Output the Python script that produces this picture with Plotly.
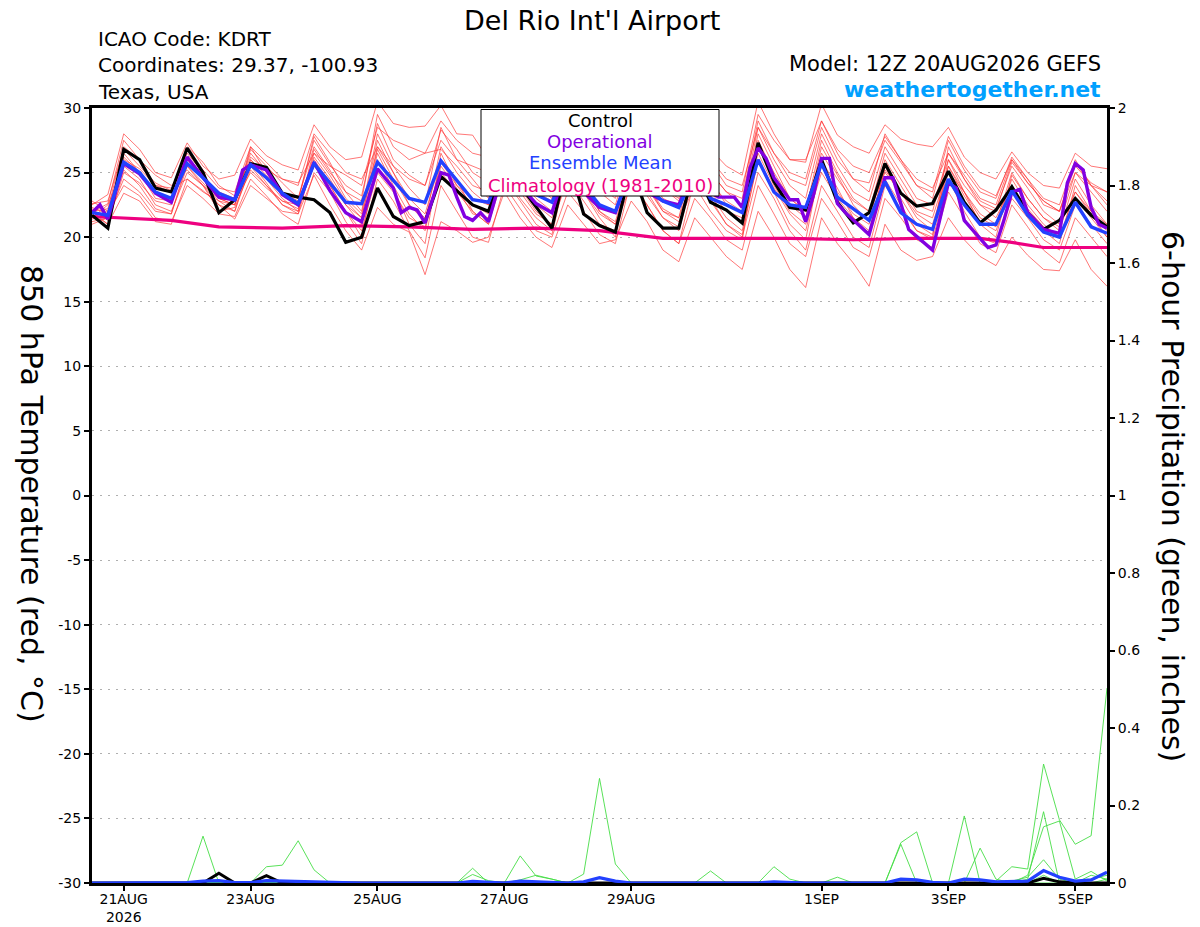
import pandas as pd
import plotly.graph_objects as go

# ---------------- data ----------------
RUN_START = "2026-08-20 12:00"
STEP_HOURS = 6
N_STEPS = 65  # 20AUG 12Z .. 05SEP 12Z, 6-hourly

TICK_DATES = ["2026-08-21", "2026-08-23", "2026-08-25", "2026-08-27",
              "2026-08-29", "2026-09-01", "2026-09-03", "2026-09-05"]
TICK_LABELS = ["21AUG<br>2026", "23AUG", "25AUG", "27AUG",
               "29AUG", "1SEP", "3SEP", "5SEP"]
TEMP_TICKS = [-30, -25, -20, -15, -10, -5, 0, 5, 10, 15, 20, 25, 30]
TEMP_TICK_LABELS = ["-30", "-25", "-20", "-15", "-10", "-5", "0", "5", "10", "15", "20", "25", "30"]
PRCP_TICKS = [0, 0.2, 0.4, 0.6, 0.8, 1.0, 1.2, 1.4, 1.6, 1.8, 2.0]
PRCP_TICK_LABELS = ["0", "0.2", "0.4", "0.6", "0.8", "1", "1.2", "1.4", "1.6", "1.8", "2"]

# 850 hPa temperature (deg C), 6-hourly
CONTROL = [21.7, 20.7,
           26.8, 26.0, 23.8, 23.5,
           26.9, 25.0, 21.9, 22.9,
           25.7, 25.4, 23.4, 23.1,
           22.9, 21.9, 19.6, 20.0,
           23.8, 21.6, 20.9, 21.2,
           24.7, 23.6, 22.5, 22.0,
           25.5, 24.0, 22.3, 20.7,
           26.0, 21.8, 20.9, 20.4,
           25.5, 21.9, 20.7, 20.7,
           25.5, 22.7, 22.1, 21.1,
           27.3, 24.3, 22.3, 22.1,
           26.0, 22.7, 21.1, 21.9,
           25.7, 23.4, 22.4, 22.6,
           25.1, 22.7, 21.1, 22.1,
           23.9, 21.9, 20.6, 21.3,
           23.0, 21.7, 20.8]

ENS_MEAN = [21.9, 21.7,
            25.8, 25.0, 23.5, 23.0,
            25.7, 24.6, 23.4, 22.9,
            25.6, 24.6, 23.4, 22.6,
            25.7, 24.2, 22.7, 22.6,
            25.8, 24.4, 23.0, 22.7,
            25.9, 24.4, 22.9, 22.7,
            25.8, 24.5, 23.3, 22.7,
            25.5, 24.0, 22.5, 22.0,
            25.2, 23.8, 22.8, 22.3,
            25.0, 23.0, 22.5, 21.9,
            26.0, 23.5, 22.5, 22.3,
            25.7, 23.1, 22.2, 21.3,
            24.3, 21.9, 21.0, 20.6,
            24.5, 22.5, 21.0, 21.0,
            23.6, 21.7, 20.4, 20.0,
            22.7, 20.8, 20.3]

# operational run (3-hourly where visible), hours after run start
OPER_HOURS = [0, 3, 6, 12, 18, 24, 30, 36, 42, 48, 54, 57, 60, 66, 72, 78, 84, 90, 96,
              102, 108, 114, 117, 120, 123, 126, 132, 135, 138, 141, 144, 147, 150,
              156, 162, 168, 174, 180, 186, 192, 198, 204, 210, 216, 222, 228, 234,
              237, 243, 246, 249, 252, 255, 258, 264, 267, 270, 273, 276, 279, 282,
              285, 294, 300, 303, 309, 318, 324, 327, 330, 339, 342, 345, 348, 351,
              354, 360, 366, 369, 372, 375, 378, 381, 384]
OPERATIONAL = [21.9, 22.5, 21.4, 25.7, 24.9, 23.4, 22.7, 26.2, 24.6, 23.1, 22.9, 25.2, 25.6,
               25.2, 23.3, 22.5, 25.8, 23.6, 21.9,
               21.2, 25.3, 23.8, 21.9, 22.3, 22.1, 21.1, 25.0, 24.8, 23.1, 21.6, 21.3, 21.9, 21.2,
               25.5, 24.0, 22.6, 21.9, 25.8, 23.5, 22.3, 21.9, 25.5, 23.5, 22.8, 22.5, 25.5, 23.5,
               23.1, 23.1, 22.3, 25.4, 26.9, 26.1, 24.6, 22.9, 22.9, 21.2, 23.3, 26.1, 26.1, 22.6,
               21.9, 20.2, 24.6, 24.6, 20.6, 19.0, 24.2, 23.8, 21.3, 19.2, 19.4, 21.3, 23.5, 23.7,
               21.9, 20.6, 20.3, 24.2, 25.7, 25.2, 22.3, 21.0, 20.7]

CLIM_HOURS = [0, 12, 30, 48, 72, 96, 120, 144, 168, 192, 216, 240, 264, 288, 312, 336, 348, 360, 384]
CLIMATOLOGY = [21.6, 21.5, 21.3, 20.8, 20.7, 20.9, 20.8, 20.6, 20.7, 20.5, 19.9, 19.9, 19.9,
               19.8, 19.9, 19.9, 19.6, 19.2, 19.2]

MEMBER_01 = [22.5, 23.3, 28.0, 26.8, 25.0, 24.6, 27.3, 25.5, 24.5, 24.8, 27.6, 26.3, 25.6, 25.2,
             28.7, 27.0, 26.0, 26.2, 30.5, 28.8, 28.5, 28.6, 30.2, 28.0, 27.9, 26.0, 29.0, 27.5,
             26.0, 25.5, 29.5, 27.2, 25.8, 25.0, 28.8, 26.5, 25.0, 24.5, 28.5, 26.8, 25.5, 24.8,
             30.5, 28.0, 26.0, 25.8, 30.3, 27.9, 27.0, 26.5, 28.7, 27.6, 27.2, 27.0, 28.5, 26.2,
             25.0, 24.5, 26.6, 25.0, 24.0, 23.8, 26.5, 25.5, 25.3]
MEMBER_02 = [21.8, 21.0, 23.4, 22.8, 21.2, 21.0, 24.5, 23.6, 22.5, 21.4, 24.0, 23.0, 22.0, 21.8,
             24.8, 22.5, 20.5, 19.0, 22.3, 21.0, 20.4, 17.1, 21.2, 20.5, 19.6, 20.0, 23.5, 21.5,
             20.0, 19.2, 22.5, 21.0, 19.5, 19.8, 22.8, 21.2, 19.0, 18.1, 21.5, 20.0, 18.5, 17.5,
             22.0, 20.0, 17.5, 16.1, 21.5, 19.5, 18.0, 16.2, 21.0, 19.0, 18.2, 18.5, 21.5, 19.8,
             18.5, 17.8, 20.0, 18.6, 17.5, 17.4, 19.8, 17.5, 16.2]
MEMBER_03 = [22.0, 22.2, 27.0, 26.0, 24.0, 23.5, 26.5, 25.0, 23.0, 22.5, 26.8, 25.5, 24.2, 23.0,
             27.5, 25.6, 24.0, 23.2, 28.8, 26.0, 24.8, 24.0, 28.3, 26.8, 25.0, 24.2, 27.0, 25.5,
             24.0, 23.0, 27.0, 25.0, 23.5, 22.5, 26.5, 24.8, 23.0, 22.4, 27.0, 25.0, 23.5, 23.0,
             29.0, 26.5, 24.5, 24.0, 28.5, 26.0, 24.5, 24.2, 27.5, 25.8, 24.0, 23.5, 27.8, 25.5,
             23.8, 23.2, 26.0, 24.5, 22.5, 22.0, 25.8, 24.0, 22.5]
MEMBER_04 = [21.5, 22.5, 25.5, 24.5, 22.5, 22.0, 25.0, 24.0, 22.0, 22.3, 25.2, 24.0, 22.5, 22.0,
             26.5, 24.8, 22.8, 21.5, 27.0, 25.0, 23.0, 21.8, 26.0, 24.5, 22.0, 21.0, 25.0, 23.0,
             21.5, 20.5, 26.0, 24.0, 22.0, 21.0, 25.0, 23.2, 21.5, 20.8, 25.5, 23.5, 22.0, 21.5,
             26.5, 24.0, 22.0, 21.0, 25.0, 23.0, 21.5, 20.5, 25.5, 23.0, 21.0, 20.2, 26.0, 23.5,
             21.5, 20.8, 24.5, 22.5, 21.0, 20.0, 23.5, 22.0, 21.0]
MEMBER_05 = [22.3, 21.8, 26.2, 25.0, 23.0, 22.8, 26.0, 24.5, 23.2, 23.0, 26.5, 25.0, 23.2, 22.5,
             25.5, 24.0, 22.0, 20.5, 25.0, 23.5, 21.5, 20.8, 25.5, 23.8, 21.8, 21.5, 26.5, 24.5,
             23.0, 22.0, 25.0, 23.5, 21.8, 21.0, 24.0, 22.5, 20.5, 19.5, 24.5, 22.8, 21.0, 20.0,
             25.0, 23.0, 20.5, 19.0, 24.0, 22.0, 20.0, 19.2, 24.0, 22.2, 20.5, 19.8, 24.5, 22.0,
             20.0, 19.5, 23.0, 21.5, 19.8, 19.0, 22.5, 21.0, 19.5]
MEMBER_06 = [21.0, 21.5, 24.5, 23.5, 22.0, 21.8, 25.8, 24.6, 23.5, 23.0, 25.8, 24.2, 22.5, 21.8,
             26.0, 24.2, 22.5, 21.5, 26.8, 24.5, 22.5, 21.2, 27.0, 25.0, 23.5, 22.5, 24.5, 22.8,
             21.0, 20.2, 25.5, 23.5, 21.5, 20.0, 26.0, 24.0, 22.0, 21.2, 24.0, 22.0, 20.5, 19.8,
             27.5, 25.0, 23.0, 22.0, 26.5, 24.5, 22.8, 22.0, 25.0, 23.5, 21.8, 21.0, 25.0, 23.5,
             21.8, 21.0, 25.0, 23.0, 21.5, 20.5, 24.5, 22.5, 21.0]
MEMBER_07 = [22.0, 21.0, 25.0, 24.2, 22.8, 22.5, 26.8, 25.2, 23.8, 23.5, 27.0, 25.0, 23.5, 22.8,
             27.8, 25.8, 23.5, 22.0, 28.0, 25.5, 23.8, 22.5, 28.5, 26.0, 24.5, 23.0, 27.5, 25.8,
             24.5, 24.0, 28.0, 26.0, 24.0, 23.5, 27.5, 25.5, 23.8, 22.8, 26.0, 24.2, 22.8, 22.0,
             28.0, 25.5, 23.0, 22.0, 27.5, 25.0, 23.0, 22.0, 26.5, 24.5, 22.5, 22.0, 26.5, 24.5,
             22.8, 22.2, 25.5, 23.8, 22.0, 21.0, 25.0, 23.5, 22.0]
MEMBER_08 = [22.8, 22.0, 26.5, 25.0, 23.5, 22.8, 25.5, 24.0, 22.5, 22.0, 26.0, 24.5, 23.0, 22.0,
             26.8, 25.0, 23.5, 22.8, 29.5, 27.0, 26.0, 26.5, 29.0, 27.5, 26.5, 26.2, 28.5, 27.0,
             25.5, 25.0, 28.0, 26.5, 25.0, 24.0, 28.0, 26.0, 24.5, 23.5, 27.5, 25.8, 24.0, 23.5,
             29.5, 27.5, 26.0, 26.0, 29.0, 26.8, 25.5, 25.0, 27.8, 26.0, 24.5, 23.8, 26.5, 24.8,
             23.0, 22.5, 26.0, 24.2, 22.8, 22.0, 25.5, 24.2, 23.5]
MEMBER_09 = [21.6, 22.0, 25.8, 24.8, 23.5, 23.0, 26.2, 24.8, 23.0, 22.8, 25.0, 23.8, 22.8, 22.5,
             25.8, 24.0, 22.0, 20.0, 26.0, 23.8, 21.0, 19.5, 26.5, 24.0, 22.5, 21.8, 26.0, 24.2,
             22.5, 21.5, 26.5, 24.5, 22.5, 21.8, 25.5, 23.5, 21.5, 20.5, 25.0, 23.0, 21.0, 20.2,
             26.0, 23.5, 21.0, 19.8, 26.0, 23.8, 21.5, 20.2, 24.5, 22.5, 20.5, 20.0, 27.0, 24.5,
             22.5, 21.5, 24.0, 22.0, 20.5, 19.5, 24.0, 22.0, 20.5]
MEMBER_10 = [22.2, 21.3, 26.0, 25.3, 24.0, 23.8, 24.5, 23.5, 22.8, 22.5, 26.0, 24.8, 23.5, 23.0,
             27.0, 25.2, 23.0, 21.8, 27.5, 25.0, 22.5, 21.5, 25.0, 23.5, 22.0, 21.0, 25.5, 23.8,
             22.0, 21.0, 24.5, 22.8, 21.0, 20.5, 26.0, 24.0, 22.2, 21.5, 26.5, 24.5, 22.5, 22.0,
             27.0, 24.5, 22.5, 21.5, 27.0, 24.8, 22.5, 21.2, 26.0, 24.0, 22.0, 21.5, 25.5, 23.5,
             21.0, 20.0, 24.8, 23.0, 21.5, 20.8, 23.5, 21.8, 20.0]
MEMBER_11 = [21.9, 22.6, 27.5, 26.0, 24.8, 24.0, 25.2, 24.0, 23.0, 22.5, 27.0, 25.8, 24.5, 24.0,
             28.0, 26.5, 25.0, 24.5, 27.0, 25.5, 24.5, 24.0, 27.5, 26.0, 25.5, 25.0, 28.0, 26.5,
             25.0, 24.5, 27.5, 25.5, 24.0, 23.0, 27.0, 25.2, 23.8, 23.0, 28.0, 26.0, 24.5, 24.0,
             28.5, 26.5, 25.0, 24.5, 29.0, 26.5, 24.5, 23.5, 28.0, 26.0, 24.0, 23.0, 27.5, 25.2,
             23.5, 23.0, 26.2, 24.5, 23.0, 22.5, 26.0, 24.0, 22.8]
MEMBER_12 = [21.4, 21.8, 24.0, 23.2, 21.5, 21.2, 24.0, 23.0, 21.8, 21.6, 24.5, 23.2, 21.8, 21.0,
             25.0, 23.5, 21.2, 19.5, 24.5, 22.8, 20.5, 18.4, 24.0, 22.0, 20.0, 19.6, 24.0, 22.2,
             20.5, 20.0, 23.5, 22.0, 20.2, 19.5, 24.5, 22.5, 20.5, 19.5, 23.0, 21.5, 19.8, 19.0,
             24.0, 21.8, 19.5, 18.5, 23.0, 21.2, 19.2, 18.5, 23.0, 21.5, 19.8, 19.2, 23.5, 21.5,
             19.5, 18.8, 22.5, 20.8, 19.0, 18.0, 21.5, 20.0, 18.5]
MEMBER_13 = [22.6, 22.8, 26.8, 25.5, 24.2, 23.6, 27.0, 25.8, 24.0, 23.2, 26.2, 25.2, 24.5, 24.2,
             26.5, 25.5, 24.8, 24.0, 28.5, 27.5, 27.0, 26.5, 26.8, 25.5, 24.0, 23.5, 26.5, 25.0,
             23.5, 22.8, 27.0, 25.5, 24.0, 23.5, 27.2, 25.5, 24.0, 23.5, 26.8, 25.0, 23.5, 22.5,
             28.5, 26.0, 24.0, 23.0, 28.0, 25.5, 23.5, 22.8, 27.0, 25.0, 23.0, 22.5, 26.0, 24.0,
             22.5, 22.0, 25.8, 24.2, 22.8, 22.0, 25.0, 24.0, 23.5]
MEMBER_14 = [21.2, 21.5, 25.2, 24.0, 22.2, 21.8, 25.5, 24.2, 22.8, 22.0, 25.5, 24.0, 22.8, 22.2,
             26.2, 24.5, 22.5, 21.0, 26.5, 24.0, 21.8, 20.5, 25.8, 24.0, 23.0, 22.5, 25.0, 23.5,
             21.8, 21.0, 26.0, 24.2, 22.0, 21.2, 25.5, 23.8, 22.0, 21.5, 25.0, 23.2, 21.5, 20.5,
             26.0, 23.8, 21.8, 20.5, 25.5, 23.5, 21.8, 21.0, 25.2, 23.5, 21.5, 20.5, 25.5, 23.2,
             21.2, 20.5, 23.8, 22.2, 20.8, 20.0, 23.0, 21.5, 20.0]
MEMBERS = [MEMBER_01, MEMBER_02, MEMBER_03, MEMBER_04, MEMBER_05, MEMBER_06, MEMBER_07,
           MEMBER_08, MEMBER_09, MEMBER_10, MEMBER_11, MEMBER_12, MEMBER_13, MEMBER_14]

# 6-hour precipitation (inches)
CONTROL_PRCP = [0, 0, 0, 0, 0, 0, 0, 0, 0.025, 0, 0, 0.019, 0, 0, 0, 0, 0, 0, 0, 0, 0, 0,
                0, 0, 0, 0, 0, 0, 0, 0, 0, 0, 0, 0, 0, 0, 0, 0, 0, 0, 0, 0, 0, 0, 0, 0,
                0, 0, 0, 0, 0, 0, 0, 0, 0, 0, 0, 0, 0, 0, 0.012, 0.003, 0, 0, 0]
MEAN_PRCP = [0, 0, 0, 0, 0, 0, 0.001, 0.005, 0.006, 0.001, 0.001, 0.006, 0.005, 0.004,
             0.001, 0, 0, 0, 0, 0, 0, 0, 0, 0, 0.004, 0.001, 0, 0.005, 0.004, 0.002,
             0, 0.003, 0.014, 0.005, 0, 0, 0, 0.001, 0, 0.002, 0, 0, 0, 0.003, 0.001, 0,
             0, 0.001, 0, 0, 0, 0.010, 0.008, 0.002, 0, 0.010, 0.008, 0.003,
             0.004, 0.005, 0.032, 0.015, 0.005, 0.008, 0.028]
PRCP_MEMBER_1 = [0, 0, 0, 0, 0, 0, 0, 0.121, 0, 0, 0, 0, 0, 0, 0, 0, 0, 0, 0, 0, 0, 0,
                 0, 0, 0, 0, 0, 0, 0, 0, 0, 0.023, 0.270, 0.049, 0, 0, 0, 0, 0, 0, 0, 0,
                 0, 0, 0, 0, 0, 0, 0, 0, 0, 0.104, 0.132, 0, 0, 0, 0, 0, 0, 0, 0, 0,
                 0, 0, 0.010]
PRCP_MEMBER_2 = [0, 0, 0, 0, 0, 0, 0, 0, 0, 0, 0, 0.042, 0.046, 0.109, 0.034, 0, 0, 0, 0, 0,
                 0, 0, 0, 0, 0.038, 0, 0, 0, 0, 0, 0, 0, 0, 0, 0, 0, 0, 0, 0, 0, 0, 0,
                 0, 0, 0, 0, 0, 0, 0, 0, 0, 0, 0, 0, 0, 0.173, 0, 0, 0, 0, 0.020, 0,
                 0, 0.020, 0.010]
PRCP_MEMBER_3 = [0, 0, 0, 0, 0, 0, 0, 0, 0, 0, 0, 0, 0, 0, 0, 0, 0, 0, 0, 0, 0, 0,
                 0, 0, 0.022, 0.006, 0, 0.070, 0.018, 0.010, 0, 0, 0, 0, 0, 0, 0, 0,
                 0, 0.031, 0, 0, 0, 0, 0, 0, 0, 0, 0, 0, 0, 0.100, 0, 0, 0, 0, 0, 0.005,
                 0.042, 0.036, 0.307, 0.163, 0.100, 0.122, 0.503]
PRCP_MEMBER_4 = [0, 0, 0, 0, 0, 0, 0, 0, 0, 0, 0, 0, 0, 0, 0, 0, 0, 0, 0, 0, 0, 0,
                 0, 0, 0, 0, 0, 0.008, 0.020, 0.010, 0, 0, 0, 0, 0, 0, 0, 0, 0, 0, 0, 0,
                 0, 0.042, 0.010, 0, 0, 0, 0, 0, 0, 0, 0, 0, 0, 0, 0.090, 0.010,
                 0, 0.010, 0.184, 0, 0, 0, 0]
PRCP_MEMBER_5 = [0, 0, 0, 0, 0, 0, 0, 0, 0, 0, 0, 0, 0, 0, 0, 0, 0, 0, 0, 0, 0, 0,
                 0, 0, 0, 0, 0, 0, 0, 0, 0, 0, 0, 0, 0, 0, 0, 0, 0, 0, 0, 0, 0, 0, 0, 0,
                 0, 0.015, 0, 0, 0, 0, 0, 0, 0, 0, 0, 0, 0, 0.020, 0.145, 0.160,
                 0.010, 0.030, 0.005]
PRCP_MEMBER_6 = [0, 0, 0, 0, 0, 0, 0, 0, 0, 0, 0, 0, 0, 0, 0, 0, 0, 0, 0, 0, 0, 0,
                 0, 0, 0, 0, 0, 0, 0, 0, 0, 0, 0, 0, 0, 0, 0, 0, 0, 0, 0, 0, 0, 0, 0, 0,
                 0, 0, 0, 0, 0, 0, 0, 0, 0, 0, 0, 0, 0.005, 0.015, 0.060, 0.010,
                 0, 0.010, 0.020]
PRCP_MEMBERS = [PRCP_MEMBER_1, PRCP_MEMBER_2, PRCP_MEMBER_3, PRCP_MEMBER_4,
                PRCP_MEMBER_5, PRCP_MEMBER_6]

# ---------------- figure ----------------
start = pd.Timestamp(RUN_START)
times = [start + pd.Timedelta(hours=STEP_HOURS * i) for i in range(N_STEPS)]
oper_times = [start + pd.Timedelta(hours=h) for h in OPER_HOURS]
clim_times = [start + pd.Timedelta(hours=h) for h in CLIM_HOURS]
end = times[-1]

FONT = "DejaVu Sans"
RED = "rgba(255,45,45,0.72)"
GREEN = "rgb(70,222,70)"
BLACK = "black"
PURPLE = "rgb(130,0,225)"
BLUE = "rgb(35,65,255)"
MAGENTA = "rgb(238,0,128)"

fig = go.Figure()

for m in MEMBERS:
    fig.add_trace(go.Scatter(x=times, y=m, mode="lines",
                             line=dict(color=RED, width=0.9), hoverinfo="skip"))

fig.add_trace(go.Scatter(x=clim_times, y=CLIMATOLOGY, mode="lines",
                         line=dict(color=MAGENTA, width=3.2)))
fig.add_trace(go.Scatter(x=times, y=CONTROL, mode="lines",
                         line=dict(color=BLACK, width=3.2)))
fig.add_trace(go.Scatter(x=oper_times, y=OPERATIONAL, mode="lines",
                         line=dict(color=PURPLE, width=3.4)))
fig.add_trace(go.Scatter(x=times, y=ENS_MEAN, mode="lines",
                         line=dict(color=BLUE, width=3.4)))

for p in PRCP_MEMBERS:
    fig.add_trace(go.Scatter(x=times, y=p, mode="lines", yaxis="y2",
                             line=dict(color=GREEN, width=0.9), hoverinfo="skip"))
fig.add_trace(go.Scatter(x=times, y=CONTROL_PRCP, mode="lines", yaxis="y2",
                         line=dict(color=BLACK, width=3)))
fig.add_trace(go.Scatter(x=times, y=MEAN_PRCP, mode="lines", yaxis="y2",
                         line=dict(color=BLUE, width=3.2)))

# the page body margin is removed (post_script), so figure pixels == page pixels
W, H = 1200, 927
PLOT_X0, PLOT_X1, PLOT_Y0, PLOT_Y1 = 92, 1107, 108, 883
L, R, T, B = PLOT_X0, W - PLOT_X1, PLOT_Y0, H - PLOT_Y1
PW, PH = PLOT_X1 - PLOT_X0, PLOT_Y1 - PLOT_Y0


def px(xpix):
    return (xpix - PLOT_X0) / PW


def py(ypix):
    return (PLOT_Y1 - ypix) / PH


tickfont = dict(family=FONT, size=14, color="black")

fig.update_layout(
    width=W, height=H,
    margin=dict(l=L, r=R, t=T, b=B, pad=0, autoexpand=False),
    paper_bgcolor="white", plot_bgcolor="white",
    showlegend=False,
    hovermode=False,
    font=dict(family=FONT, color="black"),
    xaxis=dict(type="date", range=[start, end], automargin=False,
               tickvals=[pd.Timestamp(d) for d in TICK_DATES], ticktext=TICK_LABELS,
               ticks="outside", ticklen=5, tickwidth=1.5, tickcolor="black",
               ticklabelstandoff=-4,
               showline=True, linewidth=3, linecolor="black", mirror=True,
               showgrid=False, zeroline=False, tickfont=tickfont),
    yaxis=dict(range=[-30, 30], tickvals=TEMP_TICKS, ticktext=TEMP_TICK_LABELS, automargin=False,
               ticks="outside", ticklen=5, tickwidth=1.5, tickcolor="black",
               showline=True, linewidth=3, linecolor="black", mirror=True,
               showgrid=True, gridcolor="rgb(175,175,175)", gridwidth=1.2,
               griddash="2px,6px", zeroline=False, tickfont=tickfont),
    yaxis2=dict(range=[0, 2], overlaying="y", side="right", automargin=False,
                tickvals=PRCP_TICKS, ticktext=PRCP_TICK_LABELS,
                ticks="outside", ticklen=5, tickwidth=1.5, tickcolor="black",
                showline=True, linewidth=3, linecolor="black",
                showgrid=False, zeroline=False, tickfont=tickfont),
)

# legend box (opaque, hides lines beneath)
fig.add_shape(type="rect", xref="paper", yref="paper",
              x0=px(481), x1=px(719), y0=py(196), y1=py(109.5),
              fillcolor="white", line=dict(color="black", width=1), layer="above")

legend_items = [("Control", BLACK, 121), ("Operational", PURPLE, 142),
                ("Ensemble Mean", BLUE, 163), ("Climatology (1981-2010)", MAGENTA, 185)]
for text, color, ypix in legend_items:
    fig.add_annotation(text=text, xref="paper", yref="paper", x=px(600), y=py(ypix),
                       xanchor="center", yanchor="middle", showarrow=False,
                       font=dict(family=FONT, size=18, color=color))

# titles and header text
fig.add_annotation(text="Del Rio Int'l Airport", xref="paper", yref="paper",
                   x=px(592), y=py(20), xanchor="center", yanchor="middle",
                   showarrow=False, borderpad=0,
                   font=dict(family=FONT, size=27, color="black"))
for text, ypix in [("ICAO Code: KDRT", 38.5), ("Coordinates: 29.37, -100.93", 65.5),
                   ("Texas, USA", 92.5)]:
    fig.add_annotation(text=text, xref="paper", yref="paper", x=px(96), y=py(ypix),
                       xanchor="left", yanchor="middle", showarrow=False,
                       font=dict(family=FONT, size=20, color="black"))
fig.add_annotation(text="Model: 12Z 20AUG2026 GEFS", xref="paper", yref="paper",
                   x=px(1103), y=py(64), xanchor="right", yanchor="middle",
                   showarrow=False, font=dict(family=FONT, size=21, color="black"))
fig.add_annotation(text="<b>weathertogether.net</b>", xref="paper", yref="paper",
                   x=px(1103), y=py(89), xanchor="right", yanchor="middle",
                   showarrow=False, font=dict(family=FONT, size=22, color="rgb(0,160,255)"))

# axis titles (rotated, reading top to bottom)
fig.add_annotation(text="850 hPa Temperature (red, °C)", xref="paper", yref="paper",
                   x=px(32), y=py(494), xanchor="center", yanchor="middle", textangle=90,
                   showarrow=False, font=dict(family=FONT, size=30, color="black"))
fig.add_annotation(text="6-hour Precipitation (green, inches)", xref="paper", yref="paper",
                   x=px(1173), y=py(496), xanchor="center", yanchor="middle", textangle=90,
                   showarrow=False, font=dict(family=FONT, size=30, color="black"))

fig.write_html("out.html",
               config={"displayModeBar": False},
               post_script="document.body.style.margin='0px';document.body.style.overflow='hidden';")
